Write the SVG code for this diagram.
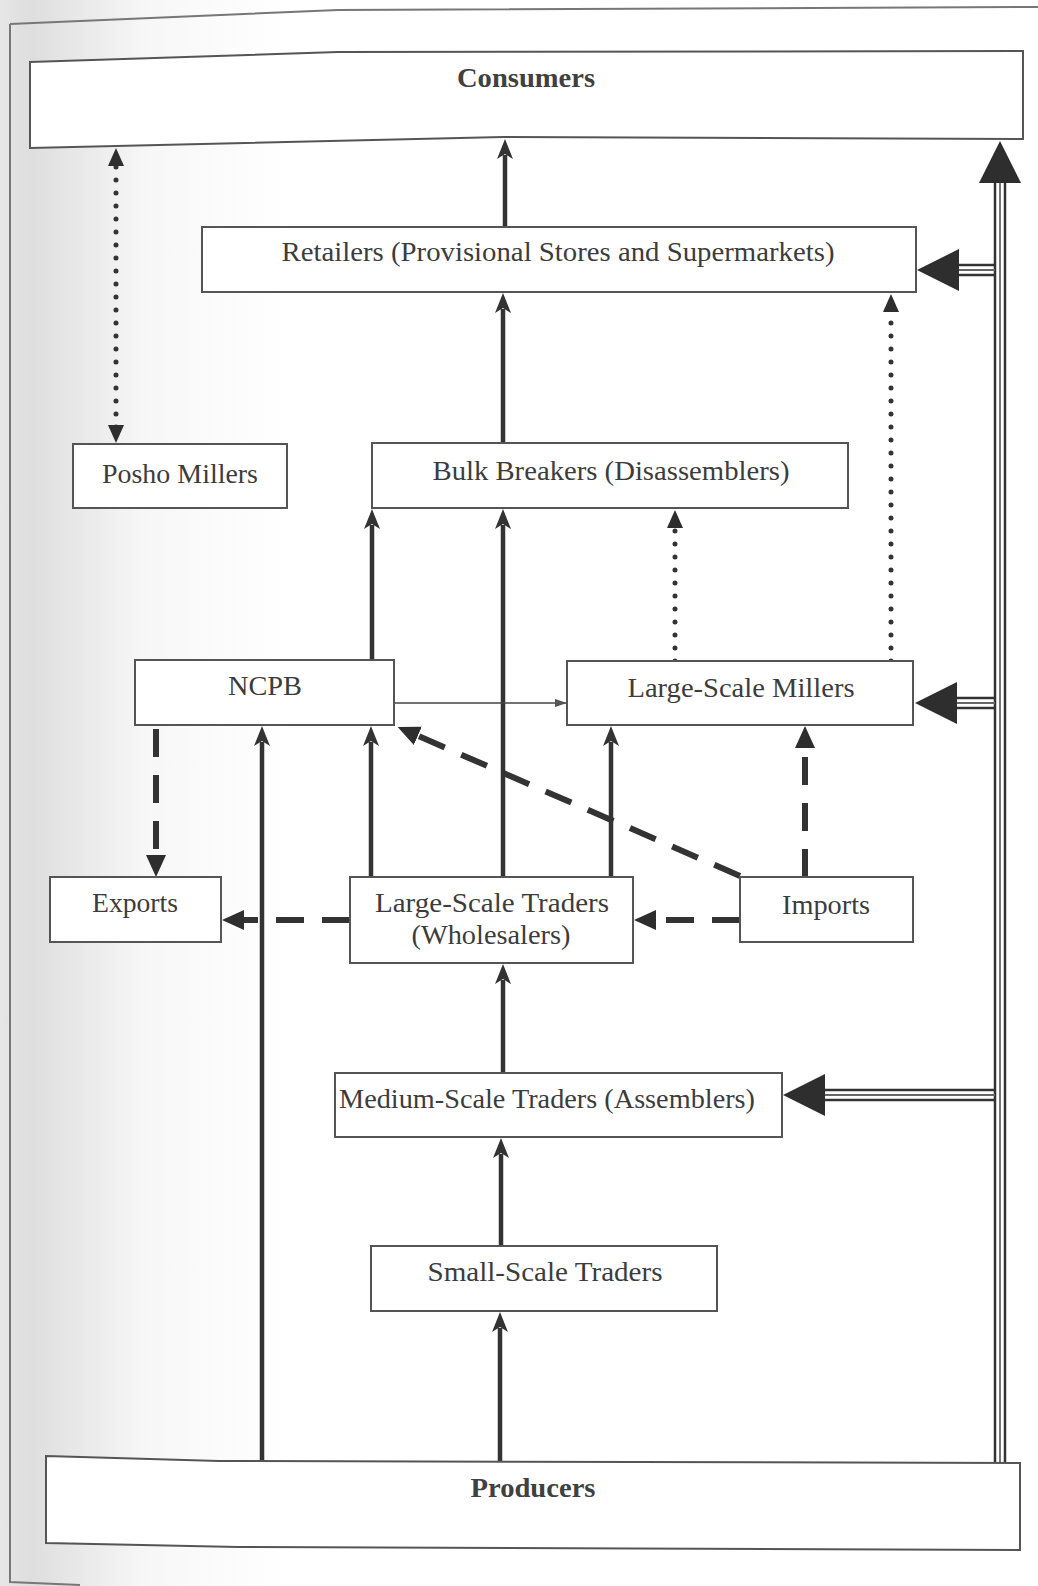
<svg xmlns="http://www.w3.org/2000/svg" width="1038" height="1586" viewBox="0 0 1038 1586">
<style>
.box{fill:#fff;stroke:#555;stroke-width:2}
.t{font-family:"Liberation Serif","Times New Roman",serif;font-size:27px;fill:#3c3c3c;text-anchor:middle}
.b{font-family:"Liberation Serif","Times New Roman",serif;font-size:28px;font-weight:bold;fill:#404040;text-anchor:middle}
.solid{stroke:#333;stroke-width:4.5;fill:none;marker-end:url(#ah)}
.dash{stroke:#333;stroke-width:6;fill:none;stroke-dasharray:28 18;marker-end:url(#ahd)}
.dot{stroke:#333;stroke-width:5;fill:none;stroke-dasharray:0 13;stroke-linecap:round;marker-end:url(#ahp)}
.thin{stroke:#444;stroke-width:1.6;fill:none;marker-end:url(#ahs)}
.tri{stroke:#333;stroke-width:2.5;fill:none}
.trim{stroke:#666;stroke-width:1.8;fill:none}
.big{fill:#2e2e2e}
.page{stroke:#777;stroke-width:2;fill:none}
</style>
<defs>
<linearGradient id="shade" x1="0" y1="0" x2="1" y2="0">
<stop offset="0" stop-color="#e6e6e6"/>
<stop offset="0.03" stop-color="#dedede"/>
<stop offset="0.14" stop-color="#f7f7f7"/>
<stop offset="0.28" stop-color="#ffffff"/>
</linearGradient>
<marker id="ah" viewBox="0 0 20 16" markerWidth="20" markerHeight="16" refX="4" refY="8" orient="auto" markerUnits="userSpaceOnUse">
<path d="M0,0 L20,8 L0,16 L5,8 Z" fill="#333"/>
</marker>
<marker id="ahd" viewBox="0 0 22 20" markerWidth="22" markerHeight="20" refX="2" refY="10" orient="auto" markerUnits="userSpaceOnUse">
<path d="M0,0 L22,10 L0,20 Z" fill="#2e2e2e"/>
</marker>
<marker id="ahp" viewBox="0 0 18 16" markerWidth="18" markerHeight="16" refX="2" refY="8" orient="auto-start-reverse" markerUnits="userSpaceOnUse">
<path d="M0,0 L18,8 L0,16 Z" fill="#2e2e2e"/>
</marker>
<marker id="ahs" viewBox="0 0 12 8" markerWidth="12" markerHeight="8" refX="12" refY="4" orient="auto" markerUnits="userSpaceOnUse">
<path d="M0,0 L12,4 L0,8 Z" fill="#555"/>
</marker>
</defs>
<rect x="0" y="0" width="1038" height="1586" fill="url(#shade)"/>
<path class="page" d="M10,24 L338,10 L1038,7 M10,24 L10,1582 L80,1585"/>

<g id="connectors">
<path class="solid" d="M505,227 V155"/>
<path class="solid" d="M503,443 V309"/>
<path class="solid" d="M372,660 V525"/>
<path class="solid" d="M503,877 V525"/>
<path class="solid" d="M371,877 V742"/>
<path class="solid" d="M611,877 V742"/>
<path class="solid" d="M262,1462 V742"/>
<path class="solid" d="M503,1073 V980"/>
<path class="solid" d="M501,1246 V1154"/>
<path class="solid" d="M500,1462 V1328"/>
<path class="dash" d="M156,729 V857"/>
<path class="dash" d="M350,920 H242"/>
<path class="dash" d="M740,920 H654"/>
<path class="dash" d="M805,877 V746"/>
<path class="dash" d="M740,876 L416,735"/>
<path class="dot" d="M116,427 V164" style="marker-start:url(#ahp)"/>
<path class="dot" d="M675,661 V526"/>
<path class="dot" d="M891,661 V310"/>
<path class="thin" d="M394,703 H567"/>
<g id="triple">
<path class="tri" d="M995,1462 V182 M1005,1462 V182"/>
<path class="trim" d="M1000,1462 V182"/>
<polygon class="big" points="1000,141 1021,183 979,183"/>
<path class="tri" d="M958,265 H995 M958,275 H995"/>
<path class="trim" d="M958,270 H995"/>
<polygon class="big" points="917,270 959,249 959,291"/>
<path class="tri" d="M956,698 H995 M956,708 H995"/>
<path class="trim" d="M956,703 H995"/>
<polygon class="big" points="915,703 957,682 957,724"/>
<path class="tri" d="M824,1090 H995 M824,1100 H995"/>
<path class="trim" d="M824,1095 H995"/>
<polygon class="big" points="783,1095 825,1074 825,1116"/>
</g>
</g>

<g id="consumers">
<path class="box" d="M30,62 L338,52 L1023,51 L1023,139 L503,137 L30,148 Z"/>
<text class="b" x="526" y="87" textLength="138" lengthAdjust="spacingAndGlyphs">Consumers</text>
</g>
<g id="retailers">
<rect class="box" x="202" y="227" width="714" height="65"/>
<text class="t" x="558" y="261" textLength="553" lengthAdjust="spacingAndGlyphs">Retailers (Provisional Stores and Supermarkets)</text>
</g>
<g id="posho">
<rect class="box" x="73" y="444" width="214" height="64"/>
<text class="t" x="180" y="483" textLength="156" lengthAdjust="spacingAndGlyphs">Posho Millers</text>
</g>
<g id="bulk">
<rect class="box" x="372" y="443" width="476" height="65"/>
<text class="t" x="611" y="480" textLength="357" lengthAdjust="spacingAndGlyphs">Bulk Breakers (Disassemblers)</text>
</g>
<g id="ncpb">
<rect class="box" x="135" y="660" width="259" height="65"/>
<text class="t" x="265" y="695" textLength="74" lengthAdjust="spacingAndGlyphs">NCPB</text>
</g>
<g id="millers">
<rect class="box" x="567" y="661" width="346" height="64"/>
<text class="t" x="741" y="697" textLength="227" lengthAdjust="spacingAndGlyphs">Large-Scale Millers</text>
</g>
<g id="exports">
<rect class="box" x="50" y="877" width="171" height="65"/>
<text class="t" x="135" y="912" textLength="86" lengthAdjust="spacingAndGlyphs">Exports</text>
</g>
<g id="traders">
<rect class="box" x="350" y="877" width="283" height="86"/>
<text class="t" x="492" y="912" textLength="234" lengthAdjust="spacingAndGlyphs">Large-Scale Traders</text>
<text class="t" x="491" y="944" textLength="159" lengthAdjust="spacingAndGlyphs">(Wholesalers)</text>
</g>
<g id="imports">
<rect class="box" x="740" y="877" width="173" height="65"/>
<text class="t" x="826" y="914" textLength="88" lengthAdjust="spacingAndGlyphs">Imports</text>
</g>
<g id="medium">
<rect class="box" x="335" y="1073" width="447" height="64"/>
<text class="t" x="547" y="1108" textLength="416" lengthAdjust="spacingAndGlyphs">Medium-Scale Traders (Assemblers)</text>
</g>
<g id="small">
<rect class="box" x="371" y="1246" width="346" height="65"/>
<text class="t" x="545" y="1281" textLength="235" lengthAdjust="spacingAndGlyphs">Small-Scale Traders</text>
</g>
<g id="producers">
<path class="box" d="M46,1456 L219,1461 L1020,1463 L1020,1550 L238,1547 L46,1543 Z"/>
<text class="b" x="533" y="1497" textLength="125" lengthAdjust="spacingAndGlyphs">Producers</text>
</g>
</svg>
